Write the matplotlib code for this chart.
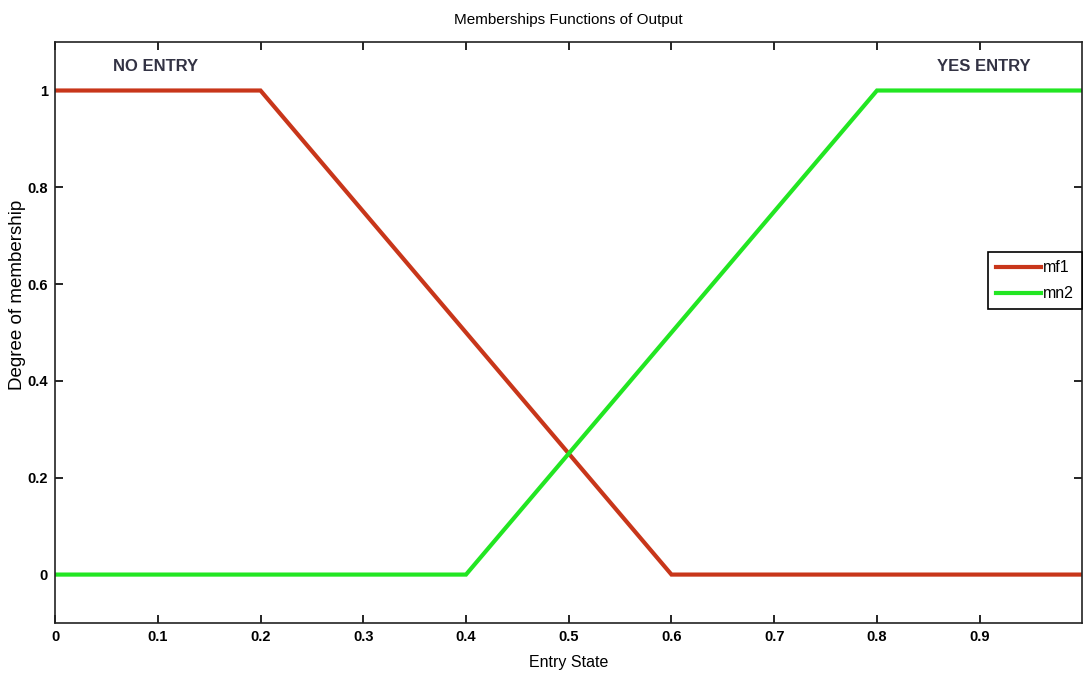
import matplotlib
matplotlib.use("Agg")
import matplotlib.pyplot as plt

plt.rcParams['font.family'] = ['Liberation Sans', 'DejaVu Sans']

# Data
mf1_x = [0.0, 0.2, 0.6, 1.0]
mf1_y = [1.0, 1.0, 0.0, 0.0]
mn2_x = [0.0, 0.4, 0.8, 1.0]
mn2_y = [0.0, 0.0, 1.0, 1.0]
series_names = ["mf1", "mn2"]
xticks = [0, 0.1, 0.2, 0.3, 0.4, 0.5, 0.6, 0.7, 0.8, 0.9]
xticklabels = ["0", "0.1", "0.2", "0.3", "0.4", "0.5", "0.6", "0.7", "0.8", "0.9"]
yticks = [0, 0.2, 0.4, 0.6, 0.8, 1]
yticklabels = ["0", "0.2", "0.4", "0.6", "0.8", "1"]

fig = plt.figure(figsize=(10.83, 6.79), dpi=100)
ax = fig.add_axes([0.0508, 0.0825, 0.9487, 0.8555])

ax.plot(mf1_x, mf1_y, color="#C8361A", lw=3.0, label=series_names[0], solid_joinstyle="miter")
ax.plot(mn2_x, mn2_y, color="#22E622", lw=3.0, label=series_names[1], solid_joinstyle="miter")

ax.set_xlim(0, 1)
ax.set_ylim(-0.1, 1.1)
ax.set_xticks(xticks)
ax.set_xticklabels(xticklabels)
ax.set_yticks(yticks)
ax.set_yticklabels(yticklabels)
ax.tick_params(direction="in", top=True, right=True, length=6, width=1.2,
               labelsize=10.5, pad=5)
for lab in ax.get_xticklabels() + ax.get_yticklabels():
    lab.set_fontweight("bold")
for s in ax.spines.values():
    s.set_linewidth(1.2)
    s.set_color("#222222")

ax.set_title("Memberships Functions of Output", fontsize=11, pad=13)
ax.set_xlabel("Entry State", fontsize=11.5, labelpad=8)
fig.text(18 / 1083, 1 - 295 / 679, "Degree of membership", rotation=90,
         ha="center", va="center", fontsize=13.5)

ax.text(0.098, 1.05, "NO ENTRY", ha="center", va="center", fontsize=12,
        fontweight="bold", color="#333344")
ax.text(0.904, 1.05, "YES ENTRY", ha="center", va="center", fontsize=12,
        fontweight="bold", color="#333344")

leg = ax.legend(loc="center right", bbox_to_anchor=(1.0, 0.589), fontsize=11.5,
                handlelength=2.8, handletextpad=0.1, borderpad=0.5,
                labelspacing=0.7, fancybox=False, framealpha=1,
                edgecolor="black", borderaxespad=0.05)
leg.get_frame().set_linewidth(1.2)

fig.savefig("out.png", dpi=100)
